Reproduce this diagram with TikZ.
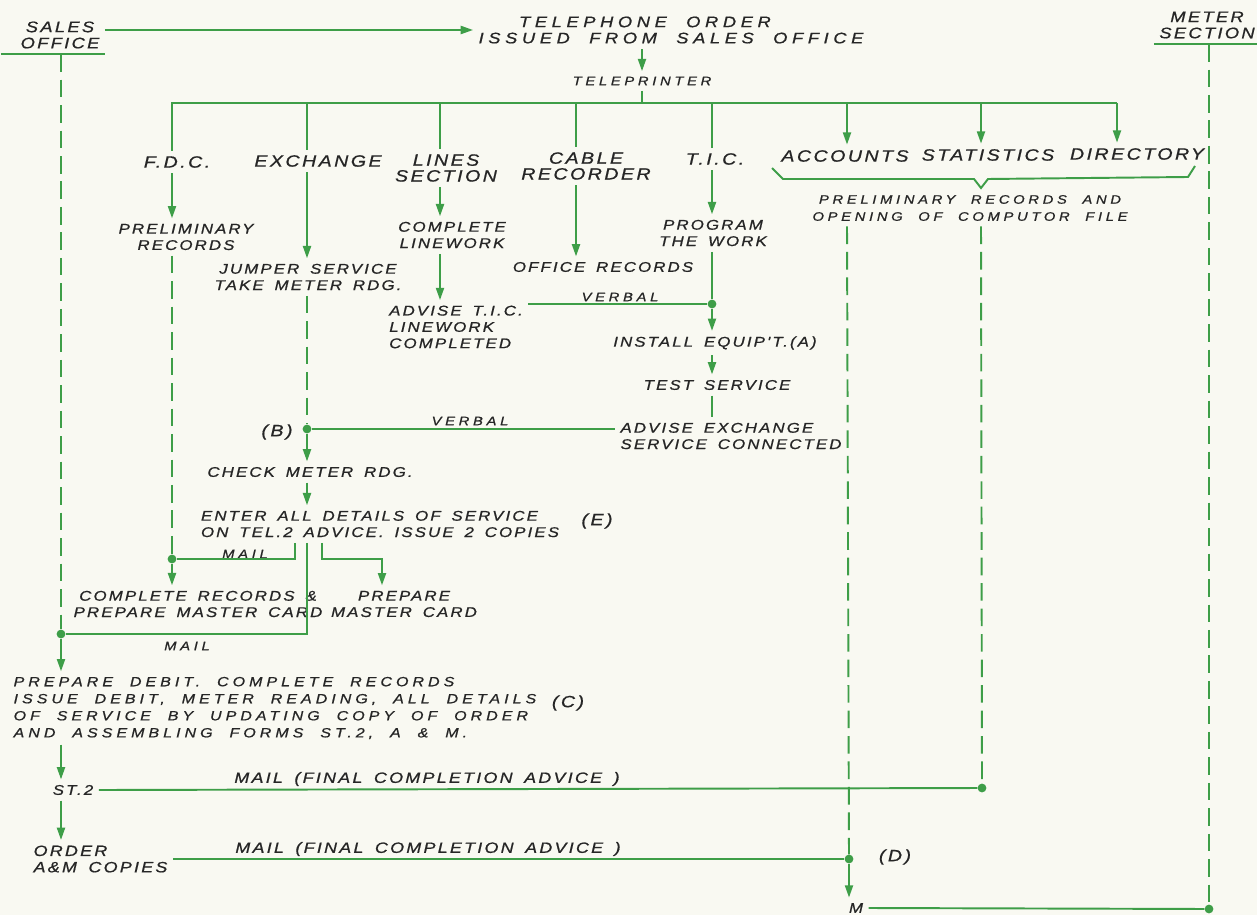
\documentclass[tikz,border=0pt]{standalone}
\usepackage{fontspec}
\usetikzlibrary{arrows.meta,positioning}
\newfontfamily\handfont{Liberation Sans}[FakeStretch=1.2,LetterSpace=15,WordSpace=1.6,FakeBold=0.8]
\newfontfamily\handwide{Liberation Sans}[FakeStretch=1.2,LetterSpace=30,WordSpace=2.0,FakeBold=0.8]
\definecolor{linegreen}{HTML}{3E9E48}
\definecolor{inkcolor}{HTML}{262626}
\definecolor{papercolor}{HTML}{F9F9F2}

\begin{document}
\begin{tikzpicture}[
  x=0.02cm, y=-0.02cm,
  lbl/.style={font=\handfont\itshape\fontsize{8}{9.3}\selectfont, text=inkcolor, inner sep=3pt, align=center},
  head/.style={lbl, font=\handfont\itshape\fontsize{9.3}{9}\selectfont},
  office/.style={lbl, font=\handfont\itshape\fontsize{8.7}{9.2}\selectfont},
  note/.style={lbl, font=\handwide\itshape\fontsize{7}{9.7}\selectfont},
  titl/.style={lbl, font=\handwide\itshape\fontsize{8.7}{9.2}\selectfont},
  flow/.style={draw=linegreen, line width=1.1pt},
  arr/.style={flow, -{Triangle[length=7pt,width=4.6pt]}},
  dashline/.style={flow, dash pattern=on 10pt off 4.5pt},
  dot/.style={circle, fill=linegreen, inner sep=0pt, minimum size=5pt}
]
\useasboundingbox (0,0) rectangle (1257,915);
\fill[papercolor] (0,0) rectangle (1257,915);

% offices and order
\node[office] (sales) at (60,35) {SALES\\OFFICE};
\node[titl, align=left] (order) at (671,30) {\hspace*{23pt}TELEPHONE ORDER\\ISSUED FROM SALES OFFICE};
\node[office] (meter) at (1207,25) {METER\\SECTION};
\node[note] (tp) at (642,81) {TELEPRINTER};

% sections
\node[head] (fdc) at (177,162) {F.D.C.};
\node[head] (exch) at (318,161) {EXCHANGE};
\node[head] (lines) at (446,168) {LINES\\SECTION};
\node[head] (cable) at (586,166) {CABLE\\RECORDER};
\node[head] (tic) at (715,159) {T.I.C.};
\node[head] (acc) at (845,156) {ACCOUNTS};
\node[head] (stat) at (988,155) {STATISTICS};
\node[head] (dir) at (1137,154) {DIRECTORY};
\node[note] (comp) at (970,208) {PRELIMINARY RECORDS AND\\OPENING OF COMPUTOR FILE};

% work steps
\node[lbl] (prelimF) at (186,237) {PRELIMINARY\\RECORDS};
\node[lbl] (jumper) at (308,277) {JUMPER SERVICE\\TAKE METER RDG.};
\node[lbl] (complete) at (452,235) {COMPLETE\\LINEWORK};
\node[lbl, align=left] (advise) at (456,327) {ADVISE T.I.C.\\LINEWORK\\COMPLETED};
\node[lbl] (office) at (603,267) {OFFICE RECORDS};
\node[lbl] (prog) at (713,233) {PROGRAM\\THE WORK};
\node[lbl] (install) at (715,343) {INSTALL EQUIP'T.(A)};
\node[lbl] (test) at (717,385) {TEST SERVICE};
\node[lbl, align=left] (advx) at (731,436) {ADVISE EXCHANGE\\SERVICE CONNECTED};
\node[lbl] (check) at (310,472) {CHECK METER RDG.};
\node[lbl, align=left] (enter) at (380,524) {ENTER ALL DETAILS OF SERVICE\\ON TEL.2 ADVICE. ISSUE 2 COPIES};
\node[lbl] (compRec) at (198,604) {COMPLETE RECORDS \&\\PREPARE MASTER CARD};
\node[lbl] (prepMC) at (404,604) {PREPARE\\MASTER CARD};
\node[note, align=left, anchor=west, font=\handwide\itshape\fontsize{7.6}{9.7}\selectfont] (debit) at (8,708) {PREPARE DEBIT. COMPLETE RECORDS\\ISSUE DEBIT, METER READING, ALL DETAILS\\OF SERVICE BY UPDATING COPY OF ORDER\\AND ASSEMBLING FORMS ST.2, A \& M.};
\node[lbl] (st2) at (73,790) {ST.2};
\node[lbl, align=left, anchor=west, font=\handfont\itshape\fontsize{8.5}{9.3}\selectfont] (amc) at (28,859) {ORDER\\A\&M COPIES};
\node[lbl] (mnode) at (856,908) {M};

% labels on lines
\node[note] (verbalA) at (620,297) {VERBAL};
\node[note] (verbalB) at (470,421) {VERBAL};
\node[head] (labB) at (277,432) {(B)};
\node[head] (labE) at (597,521) {(E)};
\node[head] (labC) at (568,703) {(C)};
\node[head] (labD) at (895,857) {(D)};
\node[note] (mailA) at (245,554) {MAIL};
\node[note] (mailB) at (187,646) {MAIL};
\node[lbl, font=\handfont\itshape\fontsize{8.5}{9.3}\selectfont] (mailC) at (427,779) {MAIL (FINAL COMPLETION ADVICE )};
\node[lbl, font=\handfont\itshape\fontsize{8.5}{9.3}\selectfont] (mailD) at (428,849) {MAIL (FINAL COMPLETION ADVICE )};

% junctions
\node[dot] (dB) at (307,429) {};
\node[dot] (dT) at (712,304) {};
\node[dot] (dF) at (172,559) {};
\node[dot] (dS) at (61,634) {};
\node[dot] (dSt) at (982,788) {};
\node[dot] (dD) at (849,859) {};
\node[dot] (dM) at (1209,909) {};

\coordinate (bus) at (642,103);
\coordinate (bF) at (172,103);
\coordinate (bE) at (307,103);
\coordinate (bL) at (440,103);
\coordinate (bC) at (576,103);
\coordinate (bT) at (712,103);
\coordinate (bA) at (847,103);
\coordinate (bS) at (981,103);
\coordinate (bD) at (1117,103);
\coordinate (eL) at (295,559);
\coordinate (eR) at (322,559);
\coordinate (eP) at (382,559);

% order and teleprinter
\draw[arr] (sales.east |- order.west) -- (order.west);
\draw[arr] (order.south -| tp) -- (tp);
\draw[flow] (tp) -- (bus);
\draw[flow] (bF |- fdc.north) -- (bF) -- (bD);
\draw[arr] (bD) -- (bD |- dir.north);
\foreach \c/\n in {bE/exch, bL/lines, bC/cable, bT/tic}
  \draw[flow] (\c) -- (\c |- \n.north);
\foreach \c/\n in {bA/acc, bS/stat}
  \draw[arr] (\c) -- (\c |- \n.north);
\draw[flow] (772,168) -- (783,179) -- (974,179) -- (981,188) -- (988,179) -- (1188,177) -- (1195,166);

% F.D.C.
\draw[arr] (bF |- fdc.south) -- (bF |- prelimF.north);
\draw[dashline] (bF |- prelimF.south) -- (dF);
\draw[arr] (dF) -- (bF |- compRec.north);

% exchange
\draw[arr] (bE |- exch.south) -- (bE |- jumper.north);
\draw[dashline] (bE |- jumper.south) -- (dB);
\draw[arr] (dB) -- (bE |- check.north);
\draw[arr] (bE |- check.south) -- (bE |- enter.north);
\draw[flow] (enter.south -| eL) -- (eL) -- (dF);
\draw[flow] (enter.south -| bE) |- (dS);
\draw[arr] (enter.south -| eR) -- (eR) -- (eP) -- (eP |- prepMC.north);
\draw[flow] (dB) -- (advx.west |- dB);

% lines section and cable recorder
\draw[arr] (bL |- lines.south) -- (bL |- complete.north);
\draw[arr] (bL |- complete.south) -- (bL |- advise.north);
\draw[flow] (advise.east |- dT) -- (dT);
\draw[arr] (bC |- cable.south) -- (bC |- office.north);

% T.I.C.
\draw[arr] (bT |- tic.south) -- (bT |- prog.north);
\draw[flow] (bT |- prog.south) -- (dT);
\draw[arr] (dT) -- (bT |- install.north);
\draw[arr] (bT |- install.south) -- (bT |- test.north);
\draw[flow] (bT |- test.south) -- (bT |- advx.north);

% accounts, statistics, meter section
\draw[dashline] (bA |- comp.south) -- (dD);
\draw[dashline] (bS |- comp.south) -- (dSt);
\draw[flow] (meter.south west) -- (meter.south east);
\draw[dashline] (meter.south -| dM) -- (dM);

% sales office
\draw[flow] ([xshift=-8pt]sales.south west) -- (sales.south east);
\draw[dashline] (sales.south -| dS) -- (dS);
\draw[arr] (dS) -- (dS |- debit.north);
\draw[arr] (dS |- debit.south) -- (dS |- st2.north);
\draw[arr] (dS |- st2.south) -- (dS |- amc.north);
\draw[flow] (st2.east) -- (dSt);
\draw[flow] (amc.east |- dD) -- (dD);
\draw[arr] (dD) -- (mnode.north -| dD);
\draw[flow] (mnode.east) -- (dM);
\end{tikzpicture}
\end{document}
